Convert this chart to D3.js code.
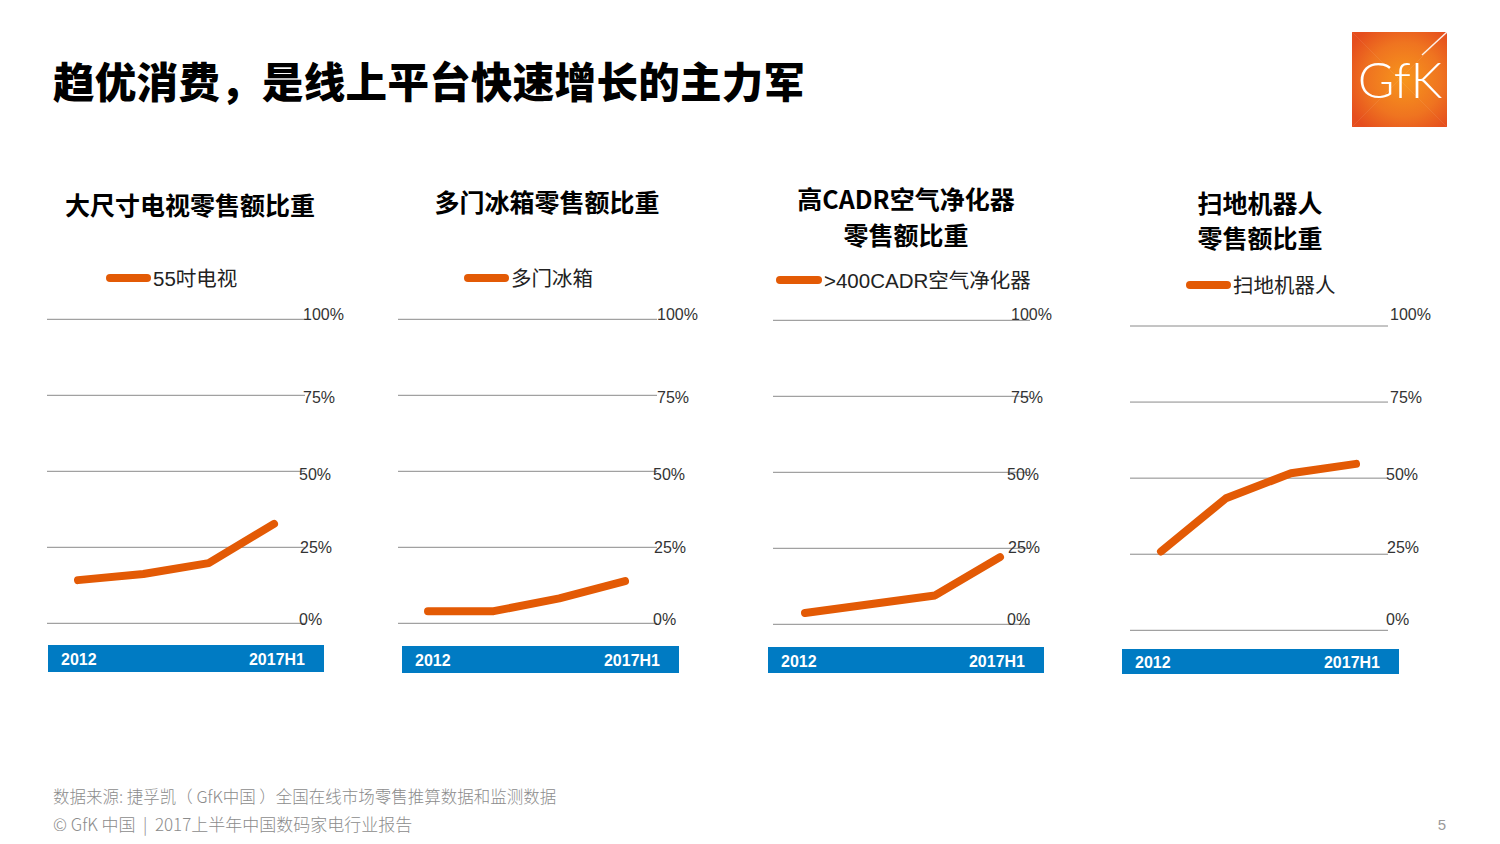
<!DOCTYPE html>
<html>
<head>
<meta charset="utf-8">
<script src="https://cdn.jsdelivr.net/npm/d3@7"></script>
<style>
  html, body { margin: 0; padding: 0; background: #fff; }
  svg { display: block; }
</style>
</head>
<body>
<svg id="chart" width="1500" height="844"></svg>
<script>
// ---------- data ----------
const categories = ["2012", "2014", "2016", "2017H1"];
const bandLabels = ["2012", "2017H1"];
const tickValues = [0, 25, 50, 75, 100];
const tvShare = [14.2, 16.2, 19.8, 32.7];
const fridgeShare = [4.0, 4.0, 8.2, 13.9];
const purifierShare = [3.7, 6.6, 9.5, 22.1];
const robotShare = [25.9, 43.4, 51.6, 54.7];
const panelTitles = [
  ["大尺寸电视零售额比重"],
  ["多门冰箱零售额比重"],
  ["高CADR空气净化器", "零售额比重"],
  ["扫地机器人", "零售额比重"]
];
const legendLabels = ["55吋电视", "多门冰箱", ">400CADR空气净化器", "扫地机器人"];
const mainTitle = "趋优消费，是线上平台快速增长的主力军";
const footerLines = [
  "数据来源: 捷孚凯（ GfK中国 ）全国在线市场零售推算数据和监测数据",
  "© GfK 中国  |  2017上半年中国数码家电行业报告"
];
const pageNumber = "5";

// ---------- layout ----------
const seriesList = [tvShare, fridgeShare, purifierShare, robotShare];
const layout = [
  { gx0: 47, gx1: 305, yTop: 319.3, yBot: 623.3, px0: 78, px1: 274, bx0: 48, bx1: 324, by0: 645, by1: 672, lx: 303,
    title: { cx: 190, y: [204] }, leg: { x0: 106, x1: 151, y: 278 } },
  { gx0: 398, gx1: 657, yTop: 319.3, yBot: 623.3, px0: 428, px1: 625, bx0: 402, bx1: 679, by0: 646, by1: 673, lx: 657,
    title: { cx: 547, y: [201] }, leg: { x0: 464, x1: 509, y: 278 } },
  { gx0: 773, gx1: 1030, yTop: 320.3, yBot: 624.3, px0: 805, px1: 1000, bx0: 768, bx1: 1044, by0: 647, by1: 673, lx: 1011,
    title: { cx: 906, y: [198, 234] }, leg: { x0: 776, x1: 822, y: 280 } },
  { gx0: 1130, gx1: 1388, yTop: 326, yBot: 630.3, px0: 1161, px1: 1356, bx0: 1122, bx1: 1399, by0: 649, by1: 674, lx: 1390,
    title: { cx: 1260, y: [202, 237] }, leg: { x0: 1186, x1: 1231, y: 285 } }
];
const labelY = d3.scaleOrdinal().domain(tickValues).range([619, 547, 474, 397, 314]);
const labelDx = d3.scaleOrdinal().domain(tickValues).range([-4, -3, -4, 0, 0]);

const ORANGE = "#E35A05";
const BLUE = "#007BC3";
const LATIN = "'Liberation Sans', Arial, 'Noto Sans CJK SC', sans-serif";
const CJK = "'Noto Sans CJK SC', 'Liberation Sans', sans-serif";

const svg = d3.select("#chart");

// main title
svg.append("text")
  .attr("x", 53).attr("y", 80)
  .attr("dominant-baseline", "central")
  .style("font-family", CJK).style("font-weight", 900)
  .style("font-size", "41.5px").style("letter-spacing", "0.3px").style("fill", "#000")
  .text(mainTitle);

// logo
const defs = svg.append("defs");
const rg = defs.append("radialGradient").attr("id", "logoGrad")
  .attr("cx", "55%").attr("cy", "50%").attr("r", "65%");
rg.append("stop").attr("offset", "0%").attr("stop-color", "#F7961C");
rg.append("stop").attr("offset", "60%").attr("stop-color", "#EF7420");
rg.append("stop").attr("offset", "100%").attr("stop-color", "#E54E1E");
const logo = svg.append("g").attr("transform", "translate(1352,32)");
logo.append("rect").attr("width", 95).attr("height", 95).attr("fill", "url(#logoGrad)");
logo.append("path").attr("d", "M0,0L95,95M95,0L0,95")
  .attr("stroke", "#ffffff").attr("stroke-opacity", 0.08).attr("stroke-width", 1);
logo.append("path").attr("d", "M95,0L70,23")
  .attr("stroke", "#ffffff").attr("stroke-opacity", 0.9).attr("stroke-width", 1.5);
logo.append("text")
  .attr("x", 48).attr("y", 66).attr("text-anchor", "middle")
  .style("font-family", "Lato, 'Open Sans', sans-serif").style("font-weight", 300)
  .style("font-size", "50px").style("fill", "#fff")
  .text("GfK");

// panels
layout.forEach((L, i) => {
  const values = seriesList[i];
  const g = svg.append("g");
  const x = d3.scalePoint().domain(categories).range([L.px0, L.px1]);
  const y = d3.scaleLinear().domain([0, 100]).range([L.yBot, L.yTop]);

  // title
  panelTitles[i].forEach((t, k) => {
    g.append("text")
      .attr("x", L.title.cx).attr("y", L.title.y[k])
      .attr("text-anchor", "middle").attr("dominant-baseline", "central")
      .style("font-family", CJK).style("font-weight", 700)
      .style("font-size", "25px").style("fill", "#000")
      .text(t);
  });

  // legend
  g.append("line")
    .attr("x1", L.leg.x0 + 4).attr("x2", L.leg.x1 - 4)
    .attr("y1", L.leg.y).attr("y2", L.leg.y)
    .attr("stroke", ORANGE).attr("stroke-width", 8).attr("stroke-linecap", "round");
  g.append("text")
    .attr("x", L.leg.x1 + 2).attr("y", L.leg.y)
    .attr("dominant-baseline", "central")
    .style("font-family", LATIN).style("font-size", "20.5px").style("fill", "#222")
    .text(legendLabels[i]);

  // gridlines
  g.selectAll("line.grid").data(tickValues).join("line")
    .attr("class", "grid")
    .attr("x1", L.gx0).attr("x2", L.gx1)
    .attr("y1", d => y(d)).attr("y2", d => y(d))
    .attr("stroke", "#8a8a8a").attr("stroke-width", 1);

  // tick labels
  g.selectAll("text.tick").data(tickValues).join("text")
    .attr("class", "tick")
    .attr("x", d => L.lx + labelDx(d)).attr("y", d => labelY(d))
    .attr("dominant-baseline", "central")
    .style("font-family", LATIN).style("font-size", "16px").style("fill", "#333")
    .text(d => d + "%");

  // line
  const line = d3.line().x((d, j) => x(categories[j])).y(d => y(d));
  g.append("path").datum(values)
    .attr("d", line)
    .attr("fill", "none").attr("stroke", ORANGE).attr("stroke-width", 8)
    .attr("stroke-linecap", "round").attr("stroke-linejoin", "round");

  // category band
  g.append("rect")
    .attr("x", L.bx0).attr("y", L.by0)
    .attr("width", L.bx1 - L.bx0).attr("height", L.by1 - L.by0)
    .attr("fill", BLUE);
  g.append("text")
    .attr("x", L.bx0 + 13).attr("y", (L.by0 + L.by1) / 2 + 1)
    .attr("dominant-baseline", "central")
    .style("font-family", LATIN).style("font-weight", 700)
    .style("font-size", "16px").style("fill", "#fff")
    .text(bandLabels[0]);
  g.append("text")
    .attr("x", L.bx1 - 19).attr("y", (L.by0 + L.by1) / 2 + 1)
    .attr("text-anchor", "end").attr("dominant-baseline", "central")
    .style("font-family", LATIN).style("font-weight", 700)
    .style("font-size", "16px").style("fill", "#fff")
    .text(bandLabels[1]);
});

// footer
footerLines.forEach((t, k) => {
  svg.append("text")
    .attr("x", 53).attr("y", 796 + k * 27)
    .attr("dominant-baseline", "central")
    .style("font-family", CJK).style("font-weight", 300)
    .style("font-size", k === 0 ? "16.5px" : "17px").style("fill", "#8c8c8c")
    .style("white-space", "pre")
    .attr("xml:space", "preserve")
    .text(t);
});
svg.append("text")
  .attr("x", 1446).attr("y", 824)
  .attr("text-anchor", "end").attr("dominant-baseline", "central")
  .style("font-family", LATIN).style("font-size", "15px").style("fill", "#9a9a9a")
  .text(pageNumber);
</script>
</body>
</html>
